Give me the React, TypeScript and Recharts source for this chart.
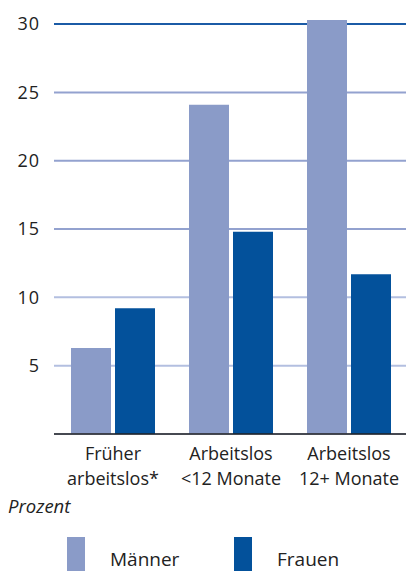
import { BarChart, Bar, XAxis, YAxis, CartesianGrid } from 'recharts'

const categories = ['Früher arbeitslos*', 'Arbeitslos <12 Monate', 'Arbeitslos 12+ Monate']
const maenner = [6.3, 24.1, 30.3]
const frauen = [9.2, 14.8, 11.7]
const yTicks = [0, 5, 10, 15, 20, 25, 30]
const seriesNames = ['Männer', 'Frauen']

const LIGHT = '#8a9bc8'
const DARK = '#03519b'
const FONT = '"Open Sans", sans-serif'
const TOP = 20

const data = categories.map((c, i) => ({ name: c, maenner: maenner[i], frauen: frauen[i] }))

function CategoryTick({ x, y, payload }: any): JSX.Element {
    const label: string = payload.value
    const cut = label.indexOf(' ')
    const lines = [label.slice(0, cut), label.slice(cut + 1)]
    return (
        <text x={x} y={y} textAnchor="middle" fill="#222" fontSize={18} fontFamily={FONT}>
            <tspan x={x} dy={26}>{lines[0]}</tspan>
            <tspan x={x} dy={25}>{lines[1]}</tspan>
        </text>
    )
}

function GridLine(props: any): JSX.Element {
    // the plot's top edge (domain max) gets no line, only the ticks do
    if (props.y1 < TOP + 1.5) return <g key={props.key} />
    const top = props.y1 < TOP + 10
    const light = props.y1 > 260
    return (
        <line
            key={props.key}
            x1={props.x1}
            x2={props.x2}
            y1={props.y1}
            y2={props.y2}
            stroke={top ? '#1b5ba6' : light ? '#b3bfe0' : '#93a2cf'}
            strokeWidth={2}
        />
    )
}

export default function App(): JSX.Element {
    const colors = [LIGHT, DARK]
    return (
        <div style={{ position: 'absolute', left: 0, top: 0, width: 406, height: 571, overflow: 'hidden', background: '#fff' }}>
            <BarChart
                width={408}
                height={571}
                data={data}
                margin={{ top: TOP, right: 0, left: 0, bottom: 77 }}
                barSize={40}
                barGap={4}
            >
                <CartesianGrid vertical={false} horizontal={GridLine} />
                <YAxis
                    width={54}
                    domain={[0, 30.3]}
                    allowDataOverflow
                    ticks={yTicks}
                    tickFormatter={(v: number) => (v === 0 ? '' : String(v))}
                    axisLine={false}
                    tickLine={false}
                    tickSize={0}
                    tickMargin={14}
                    tick={{ fill: '#222', fontSize: 18, fontFamily: FONT, letterSpacing: 1 }}
                />
                <XAxis
                    dataKey="name"
                    height={60}
                    axisLine={{ stroke: '#222', strokeWidth: 1.5 }}
                    tickLine={false}
                    tickSize={0}
                    tickMargin={0}
                    interval={0}
                    tick={<CategoryTick />}
                />
                <Bar dataKey="maenner" name={seriesNames[0]} fill={LIGHT} isAnimationActive={false} />
                <Bar dataKey="frauen" name={seriesNames[1]} fill={DARK} isAnimationActive={false} />
            </BarChart>
            <div style={{ position: 'absolute', left: 8, top: 493, fontFamily: FONT, fontSize: 18.5, fontStyle: 'italic', color: '#222' }}>
                Prozent
            </div>
            {seriesNames.map((name, i) => (
                <div key={name} style={{ position: 'absolute', left: i === 0 ? 67 : 234, top: 537 }}>
                    <div style={{ width: 18, height: 40, background: colors[i] }} />
                    <span style={{ position: 'absolute', left: 43, top: 9, fontFamily: FONT, fontSize: 19, color: '#222', whiteSpace: 'nowrap' }}>
                        {name}
                    </span>
                </div>
            ))}
        </div>
    )
}
